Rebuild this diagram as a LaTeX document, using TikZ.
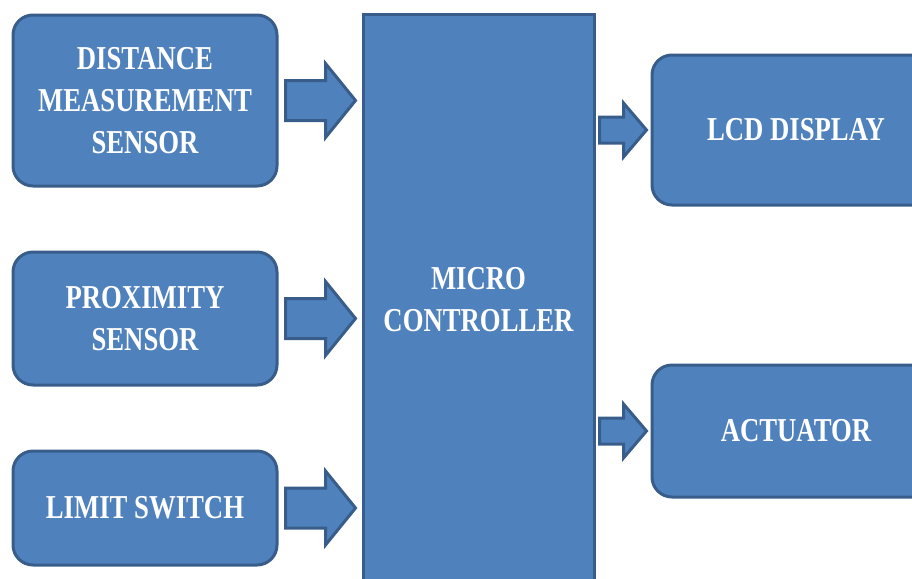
\documentclass[tikz,border=0pt]{standalone}
\usepackage{fontspec}
\newfontfamily\boxfont[FakeStretch=0.8]{Liberation Serif}
\usetikzlibrary{calc}
\definecolor{boxblue}{HTML}{4F81BD}
\definecolor{boxedge}{HTML}{385D8A}
\tikzset{
  blk/.style={draw=boxedge, fill=boxblue, line width=1.5pt, rounded corners=10pt,
    text=white, align=center, inner sep=0pt,
    font=\boxfont\bfseries\fontsize{16.7}{21}\selectfont},
  fat/.style={draw=boxedge, fill=boxblue, line width=1.5pt, line join=miter}
}
% fat block arrow: tail, tip, shaft half width, head half width, head length
\newcommand{\fatarrow}[5]{%
  \draw[fat] ($(#1)+(0,-#3)$) -- ($(#2)+(-#5,-#3)$) -- ($(#2)+(-#5,-#4)$) -- (#2)
    -- ($(#2)+(-#5,#4)$) -- ($(#2)+(-#5,#3)$) -- ($(#1)+(0,#3)$) -- cycle;}
\begin{document}
\begin{tikzpicture}[x=0.5pt, y=-0.5pt]
\useasboundingbox (0,0) rectangle (912,579);
\clip (0,0) rectangle (912,579);
\node[blk, rounded corners=0pt, minimum width=115.5pt, minimum height=286pt] (mcu) at (478.5,300) {MICRO\\CONTROLLER};
\node[blk, minimum width=132pt, minimum height=85.5pt] (dist) at (145,100.5) {DISTANCE\\MEASUREMENT\\SENSOR};
\node[blk, minimum width=132pt, minimum height=66.5pt] (prox) at (145,318.5) {PROXIMITY\\SENSOR};
\node[blk, minimum width=132pt, minimum height=57pt] (limit) at (145,508) {LIMIT SWITCH};
\node[blk, minimum width=144pt, minimum height=75pt] (lcd) at (796,130) {LCD DISPLAY};
\node[blk, minimum width=144pt, minimum height=66pt] (act) at (796,431) {ACTUATOR};
% sensors into the controller
\foreach \n in {dist, prox, limit} {
  \coordinate (\n-tail) at ($(\n.east)+(7,0)$);
  \coordinate (\n-tip) at ($(mcu.west |- \n.east)+(-6,0)$);
  \fatarrow{\n-tail}{\n-tip}{20}{37}{30}}
% controller to the outputs
\foreach \n in {lcd, act} {
  \coordinate (\n-tail) at ($(mcu.east |- \n.west)+(4,0)$);
  \coordinate (\n-tip) at ($(\n.west)+(-4,0)$);
  \fatarrow{\n-tail}{\n-tip}{13}{27}{23}}
\end{tikzpicture}
\end{document}
